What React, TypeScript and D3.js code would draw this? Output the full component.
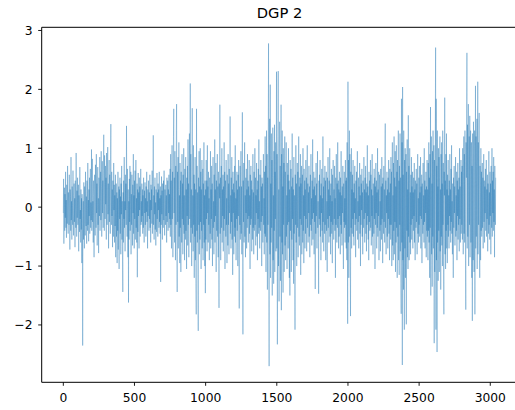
import React from "react";
import * as d3 from "d3";

const title = "DGP 2";
const xTicks = [0, 500, 1000, 1500, 2000, 2500, 3000];
const yTicks = [-2, -1, 0, 1, 2, 3];
const sampleStep = 2;

const series = [
-.1,.48,-.62,.15,.33,-.4,.22,-.18,.6,-.35,
.12,-.52,.38,.05,-.28,.7,-.15,-.45,.25,.02,
-.3,.55,-.08,-.72,.3,.18,-.4,.85,-.22,.1,
-.55,.35,.08,-.3,.62,-.12,-.48,.2,.4,-.25,
.15,-.68,.45,-.05,-.35,.92,.1,-.5,.28,-.18,
.5,-.3,-.1,.38,-.75,.2,.05,-.42,.68,-.2,
-.05,-.6,.3,-.38,.15,-.95,.22,-.3,-2.35,-.4,
.1,-.55,.42,-.2,-.7,.35,.05,-.48,.6,-.25,
-.32,.18,-.62,.45,-.1,-.4,.75,-.3,.12,-.58,
.3,-.15,.5,-.45,.2,.65,-.35,.08,-.22,.98,
-.4,.35,.82,-.25,.1,-.6,.45,.2,-.85,.3,
.55,-.2,-.48,.72,.05,-.35,.9,-.1,.4,-.65,
.25,.68,-.3,.15,-.78,.5,.32,-.15,.85,-.4,
.1,.6,-.22,.95,.35,-.5,.2,.78,-.1,.45,
-.35,.62,1.23,.2,-.4,.88,.3,-.2,.7,.05,
.5,-.55,.92,.15,-.3,.6,1.02,-.12,.4,-.7,
.35,.8,-.25,.55,.1,-.45,.9,1.41,.2,-.3,
.6,-.15,.3,-.68,.45,.12,-.5,.75,-.05,.38,
-.6,.2,-.32,.55,-.85,.1,.4,-.5,.25,-.95,
.15,-.4,.6,-.72,.05,.35,-1.05,.3,-.2,.5,
-.45,.18,-.8,.4,-.12,.7,-.55,.1,-.9,-1.44,
.25,-.6,.45,-.2,.85,-.35,.1,-.75,.55,-.05,
.4,-.3,1.38,.2,-.5,.65,-.15,-.85,.3,-1.62,
.1,-.55,.48,-.25,.7,-.4,.05,.6,-.8,.22,
-.3,.55,.12,-.65,.38,-.1,.9,-.45,.2,-.7,
.45,-.2,.62,-.55,.08,.8,-.35,.15,-.6,.4,
-1.19,.3,-.42,.58,-.15,.25,-.7,.5,-.05,.35,
-.5,.2,.65,-.3,.1,-.25,.4,-.15,.3,-.45,
.2,-.35,.5,.05,-.6,.28,-.1,.42,-.3,.15,
-.5,.35,-.08,.6,-.25,.1,-.7,.3,-.15,.45,
.05,-.4,.25,-.2,.55,-.35,.12,-.6,.38,-.05,
.3,-.28,.62,-.45,.15,.4,1.22,-.3,.2,-.55,
.35,-.12,.5,-.38,.08,-.65,.3,.1,-.42,.58,
-.2,.25,-.5,.4,-.05,.3,-.35,.6,-.25,.15,
-.45,.35,-1.27,.2,-.3,.52,-.12,.28,-.55,.4,
.1,-.35,.45,-.22,.62,-.1,-.48,.3,.05,-.3,
.38,-.15,.2,-.6,.5,-.25,.12,.45,-.4,.3,
-.1,.55,-.35,.22,-.2,.65,-.5,.9,-.3,.45,
-.7,.35,1.05,-.2,.6,-.85,.4,1.2,1.67,-.1,
.5,-.6,.95,.15,-.9,.7,-.3,1.3,1.75,-.4,
-1.44,.6,-.25,.85,-.7,.3,1.1,-.5,.2,-.95,
.75,-.35,.45,-1.1,.6,.05,-.6,.9,-.2,.4,
-.8,.55,-.3,1.0,-.45,.2,-.9,.65,.1,-.55,
.85,-.4,.3,-1.05,.5,-.15,.7,-.65,1.15,-.3,
.4,-.85,.6,1.25,-.2,.5,2.1,-.6,.9,-.35,
.3,-1.0,.65,1.68,-.45,.2,-.75,1.05,-.3,.55,
-1.2,.4,-.5,.85,-.9,.3,-1.3,-1.82,1.67,-.4,
.7,-.6,.25,-1.15,-2.1,.5,-.3,.95,-.8,.35,
-.55,1.0,-.25,.6,-1.05,.3,-.4,.8,-.7,.15,
.65,-.9,.4,-.3,1.1,-.6,.2,-1.0,.45,-1.46,
.3,-.55,.8,-.2,.45,-.75,1.05,-.1,.35,-.6,
.6,-.3,.15,-.9,.5,.2,-.45,.95,-.7,.3,
-.2,.7,-.55,.4,-1.0,.25,.85,-.35,.1,-.8,
.55,-.25,1.15,-.6,.3,-.15,.75,-1.1,.45,-.4,
.2,.9,-.5,.35,-.85,.6,-.3,-1.71,.4,.15,
1.74,-.45,.5,-.9,.25,.7,-.35,1.0,-.6,.3,
-.15,.55,-.75,.35,-.4,1.1,-.2,.6,-1.05,.25,
.45,-.5,.8,-.3,.15,-.95,.55,.05,-.65,.9,
-.3,.4,-.8,.65,-.1,.35,1.54,-.45,.2,-.7,
.5,-.25,.85,-.55,.3,-1.15,.6,-.1,.4,-.8,
.25,-.5,.7,-.35,1.05,-.6,.15,-.9,.45,-.2,
.6,-.4,.3,-1.0,.55,-.15,.8,-.65,-1.72,.35,
-.3,.7,-.55,.2,.95,-.45,.35,-.8,.5,1.61,
-.4,-2.16,.45,-.25,.75,-.6,.3,1.1,-.5,.2,
-.85,.5,-.1,.65,-.7,.3,-.35,.9,-.2,.45,
-.6,.35,-.15,.8,-.45,.2,-1.05,.55,-.3,.7,
-.2,.45,-.75,.3,.1,-.55,.9,-.35,.25,-.8,
.6,-.4,.15,1.0,-.3,.5,-.65,.2,-.1,.75,
-.5,.3,-.9,.45,-.2,.65,-.45,1.15,-.35,.1,
-.7,.55,.2,-.4,.8,-.25,.35,-1.0,.5,-.15,
.4,-.6,.25,.9,-.3,.15,-.8,.6,-.45,1.2,
-.5,.7,-1.1,.35,1.3,-.6,.9,-1.4,.5,-.3,
1.1,2.78,-.9,-2.7,.6,1.5,-.8,2.08,-1.2,.4,
-.6,1.25,-.35,.8,-1.5,.5,1.35,-.9,.2,-1.3,
.95,-.4,1.4,-1.1,.6,-.2,1.1,-.75,.5,2.3,
-.7,.9,-2.33,.5,1.2,2.31,-1.0,.3,-1.6,.85,
1.45,-.5,.7,-1.25,.4,1.74,-1.75,.9,-.6,1.3,
-.8,.35,-1.45,1.0,-.3,.75,-1.1,.5,1.2,-.65,
.6,-.9,.3,1.1,-.5,.2,-1.05,.75,-.3,.55,
-.7,1.0,-.25,.45,-1.2,.3,-1.5,.8,-.4,.15,
.65,-1.1,.35,-.55,1.25,-.2,.5,-.9,.3,-1.3,
.85,-.45,.2,-.7,-2.08,.55,-.3,1.05,-.6,.4,
-1.0,.3,.75,-.35,.6,-.85,.15,1.2,-.5,.35,
-.65,.5,-.2,.9,-1.15,.4,-.3,.7,-.8,.25,
.55,-.6,1.0,-.4,.2,-.95,.65,-.15,.45,-.7,
.3,-.45,.8,-.2,.5,-.75,.15,1.05,-.35,.4,
-.6,.25,-.1,.7,-.5,.35,-.85,.2,.55,-.3,
.9,-.4,.15,-.65,.45,-.2,1.15,-.55,.3,-.1,
.6,-.8,.35,-.25,.5,-1.39,.2,-.45,.75,-.15,
.4,-.7,.25,.95,-.35,.1,-.6,-1.47,.45,-.2,
.55,-.3,.8,-.5,.2,-.9,.4,-.1,.65,-.4,
.15,-.6,1.2,-.25,.35,-.75,.5,-.05,-.45,.7,
-.3,.45,-.9,.25,.6,-.4,.1,-1.1,.5,-.2,
.85,-.35,.3,-.6,.45,-.15,1.0,-.5,.2,-.8,
.4,-.25,.65,-.45,.1,-.95,.55,-.3,.8,-.1,
-.55,.3,-.2,.7,-.4,.15,-1.2,.5,-.3,.9,
.05,-.6,.4,-.35,1.1,-.2,.45,-.7,.3,-.5,
.6,-.15,.25,-.8,.5,-.3,.95,-.45,.2,-.65,
.35,-.1,.7,-.5,-1.05,.4,-.25,.6,-.35,.15,
-.6,.8,-.3,.45,-.7,.5,-.9,1.1,-.4,-1.98,
2.13,-.6,.8,-1.2,.4,1.3,-.5,.9,-1.0,-1.85,
.6,-.35,1.0,-.7,.3,-.45,.55,-.2,.8,-.5,
.25,-.65,.4,-.1,.7,-.3,.15,-.85,.45,-.2,
.6,-.4,.3,.95,-.55,.1,-.25,.5,-.7,.35,
-.15,.75,-.45,.2,-1.0,.55,-.3,.4,-.05,.65,
-.5,.25,-.8,.45,.1,-.35,.85,-.2,.3,-.6,
.5,-.1,.7,-.45,.25,-.75,.4,-.3,1.05,-.15,
.35,-.55,.2,-.9,.6,-.25,.45,-.4,.1,.8,
-.35,.55,-.65,.3,-.15,.9,-.5,.2,-.8,.4,
.15,-.45,.65,-.2,.5,-1.05,.35,-.3,.75,-.1,
.45,-.7,.25,-.35,1.0,-.5,.3,-.15,.6,-.9,
.2,.55,-.4,.1,-.75,.65,-.3,.35,-.55,.85,
-.2,.4,-.95,.5,.15,-.45,.7,-.25,.3,-.6,
.9,1.42,-.35,.45,-.8,.2,-.1,.6,-.5,.3,
-.7,.5,-.2,.8,-.45,.25,-.9,.65,-.3,.4,
-.55,.85,-.3,.6,-1.0,.4,1.1,-.65,.2,-.9,
.75,-.4,1.2,-.8,.5,-.25,.95,-1.1,.35,-.6,
1.05,-.35,.6,-1.2,.8,-.5,.3,1.3,-.9,.45,
-1.15,.7,-.3,1.25,-.75,.5,-1.3,-1.81,1.84,-.6,
1.1,-2.68,2.04,-.9,.55,-1.4,1.3,-.5,-2.08,.8,
-.7,1.0,-1.2,.45,.9,-1.99,.6,-.4,1.15,-.85,
.3,-1.05,1.56,-.5,.7,-.9,.4,1.0,-.6,.25,
-.8,.55,-.3,.85,-.55,.35,-.2,.6,-.7,.25,
-.4,.5,-.15,.75,-.6,.3,-.9,.45,.05,-.35,
.65,-.25,.4,-.8,.2,.9,-.45,.15,-.6,.5,
-.3,.7,-.5,.25,-.15,.85,-.7,.35,-.2,.55,
-.95,.4,.1,-.45,.75,-.3,.2,-.6,1.0,-.25,
.45,-.7,.3,-.1,.6,-.85,.35,-.4,.8,-.5,
.3,-.9,.75,-.4,1.1,-.6,.5,-1.2,.9,-.35,
1.7,-1.5,.6,1.2,-.8,.4,-1.35,.95,-.5,1.3,
-.7,.55,1.05,-2.31,.8,-1.1,.45,1.5,2.71,-2.08,
1.84,-.9,.7,-2.46,1.3,-.6,.35,-1.25,1.0,-.4,
.85,-1.1,.5,1.2,-.75,.3,-1.4,.9,-.5,1.1,
-.65,.4,-1.0,1.3,-.3,.75,-1.15,-1.82,.6,.2,
1.86,-.8,.45,-1.05,.9,-.4,1.25,-.7,.3,-.95,
.55,-.3,.8,-.5,.2,-.7,.45,-.15,.9,-.4,
.3,-.6,.65,-.25,1.05,-.45,.1,-.8,.4,-.2,
-1.2,.5,-.35,.7,-.1,.35,-.65,.25,.85,-.5,
.2,-.4,.6,-.9,.45,-.15,.75,-.55,.3,-.3,
.5,-.75,1.0,-.2,.35,-.6,.15,.8,-.45,.6,
-.3,.7,-.55,1.0,.2,-.8,.6,1.2,-.45,.9,
-.6,1.3,.4,-.9,-1.74,1.1,.5,1.6,2.62,-.7,
1.4,-.5,.9,1.75,-1.0,.6,1.2,-.3,1.55,-.85,
.8,1.3,-.6,.45,1.1,-1.2,.7,-1.93,1.25,.3,
-.9,1.45,.55,-1.1,.9,1.3,-1.82,.4,2.06,-.7,
1.2,-.5,.8,1.5,-1.05,.6,2.13,-.8,1.1,-.3,
.9,1.6,-.6,-1.2,.7,.25,-.9,1.0,-.4,.6,
-.5,.3,.75,-.35,.5,-.7,.2,.9,-.25,.45,
-.6,.35,-.1,.65,-.4,.15,.8,-.5,.3,-.2,
.55,-.75,.4,.1,-.45,.95,-.3,.25,-.55,.6,
-.15,.4,-.8,.7,.2,-.35,1.0,-.5,.45,-.1,
.6,-.4,.85,-.25,.3,-.85,.7,.15,-.3,.5
];

const W = 515;
const H = 410;
const left = 41.7;
const top = 27.3;
const bottom = 382.3;
const right = 517.3;
const font = "DejaVu Sans, sans-serif";
const lineColor = "#1f77b4";

export default function App() {
  const data = series.map((v, i) => ({ x: i * sampleStep, y: v }));
  const xMax = (series.length - 1) * sampleStep;
  const xPad = xMax * 0.05;
  const yMin = d3.min(series) as number;
  const yMaxV = d3.max(series) as number;
  const yPad = (yMaxV - yMin) * 0.05;

  const x = d3.scaleLinear().domain([-xPad, xMax + xPad]).range([left, right]);
  const y = d3.scaleLinear().domain([yMin - yPad, yMaxV + yPad]).range([bottom, top]);

  const path = d3
    .line<{ x: number; y: number }>()
    .x((d) => x(d.x))
    .y((d) => y(d.y))(data) as string;

  const fmt = (v: number) => (v < 0 ? "\u2212" + Math.abs(v) : String(v));

  return (
    <svg
      width={W}
      height={H}
      style={{ position: "absolute", left: 0, top: 0, background: "#fff" }}
      fontFamily={font}
    >
      <rect x={0} y={0} width={W} height={H} fill="#fff" />
      <path d={path} fill="none" stroke={lineColor} strokeWidth={0.45} strokeOpacity={0.8} strokeLinejoin="round" />
      {/* spines */}
      <line x1={left} x2={left} y1={top} y2={bottom} stroke="#000" strokeWidth={1} />
      <line x1={left} x2={W} y1={bottom} y2={bottom} stroke="#000" strokeWidth={1} />
      <line x1={left} x2={W} y1={top} y2={top} stroke="#000" strokeWidth={1} />
      {/* x ticks */}
      {xTicks.map((t) => (
        <g key={"x" + t}>
          <line x1={x(t)} x2={x(t)} y1={bottom} y2={bottom + 3.5} stroke="#000" strokeWidth={0.9} />
          <text x={x(t)} y={bottom + 19.2} textAnchor="middle" fontSize={12.3} fill="#000">
            {fmt(t)}
          </text>
        </g>
      ))}
      {/* y ticks */}
      {yTicks.map((t) => (
        <g key={"y" + t}>
          <line x1={left - 3.5} x2={left} y1={y(t)} y2={y(t)} stroke="#000" strokeWidth={0.9} />
          <text x={32.5} y={y(t)} dy="0.36em" textAnchor="end" fontSize={12.3} fill="#000">
            {fmt(t)}
          </text>
        </g>
      ))}
      <text x={(left + right) / 2} y={17.7} textAnchor="middle" fontSize={14.7} fill="#000">
        {title}
      </text>
    </svg>
  );
}
